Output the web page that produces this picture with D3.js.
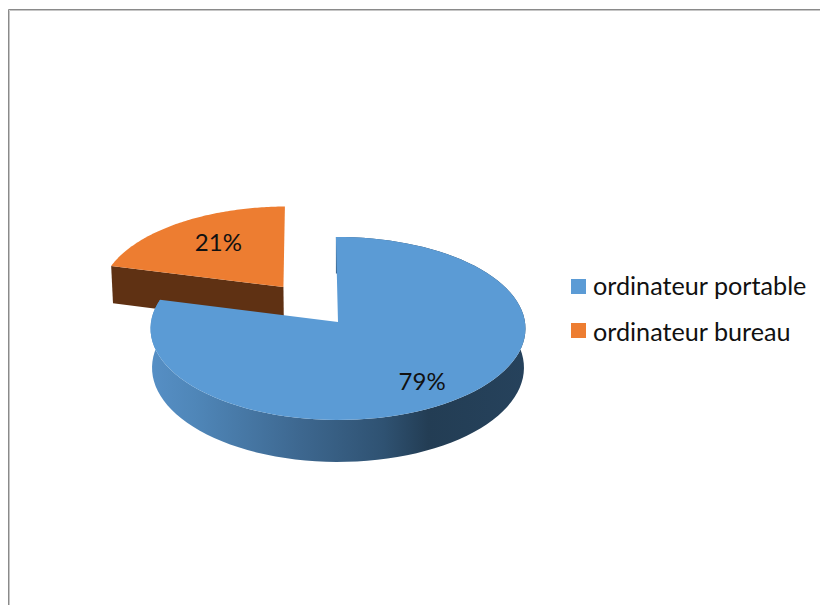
<!DOCTYPE html>
<html><head><meta charset="utf-8">
<script src="https://cdn.jsdelivr.net/npm/d3@7"></script>
<style>html,body{margin:0;padding:0;background:#fff}svg{display:block}text{font-family:Lato,"Open Sans",sans-serif;fill:#111}</style>
</head><body><svg id="c" width="820" height="605"></svg>
<script>
const categories = ["ordinateur portable", "ordinateur bureau"];
const values = [79.2, 20.8];
const percentLabels = ["79%", "21%"];
const topColors = ["#5b9bd5", "#ed7d31"];

const svg = d3.select("#c");
const defs = svg.append("defs");
const cx = 338, cy = 322, R = 187, K = 91, P = 0.071, D = 39, Q = 0.008;
const offsets = [[0, 0], [-0.30, 0.395]];      // slice explosion in the pie plane
const labelRadius = [0.70, 0.615];
const labelShift = [7, -4];

// circle-plane -> screen perspective projection
function project(u, v, z) {
  const den = 1 + P * v;
  return [cx + R * u * (1 - Q * z) / den, cy - K * v / den + D * z / den];
}
const line = d3.line();
const pie = d3.pie().sort(null).startAngle(-0.012).endAngle(2 * Math.PI - 0.012);
const arcs = pie(values);

// frame
[["#8a8a8a", 8.5, 9.5], ["#c6c6c6", 9.5, 10.5]].forEach(([c, x, y]) => {
  svg.append("path").attr("d", `M${x},605V${y}H820`).attr("fill", "none").attr("stroke", c);
});

// side gradient
const grad = defs.append("linearGradient").attr("id", "side").attr("gradientUnits", "userSpaceOnUse")
  .attr("x1", 151).attr("x2", 526).attr("y1", 0).attr("y2", 0);
[[0, "#568fc5"], [0.12, "#4f86b8"], [0.4, "#3d678f"], [0.62, "#2f5272"], [0.74, "#233d54"], [1, "#26425c"]]
  .forEach(([o, c]) => grad.append("stop").attr("offset", o).attr("stop-color", c));

function edge(d, i, z) {
  const [ou, ov] = offsets[i];
  const angle = d3.scaleLinear().domain([0, 96]).range([d.startAngle, d.endAngle]);
  return {
    apex: project(ou, ov, z),
    rim: d3.range(97).map(k => project(ou + Math.sin(angle(k)), ov + Math.cos(angle(k)), z))
  };
}

// orange slice (behind)
{
  const t = edge(arcs[1], 1, 0), b = edge(arcs[1], 1, 1);
  svg.append("path").attr("d", line([t.apex, t.rim[0], b.rim[0], b.apex]) + "Z").attr("fill", "#5f3113");
  svg.append("path").attr("d", line([t.apex, ...t.rim]) + "Z").attr("fill", topColors[1]);
}
// blue slice
{
  const t = edge(arcs[0], 0, 0), b = edge(arcs[0], 0, 1);
  svg.append("path").attr("d", line([...t.rim, ...b.rim.slice().reverse()]) + "Z").attr("fill", "url(#side)");
  svg.append("path").attr("d", line([t.apex, ...t.rim]) + "Z").attr("fill", topColors[0]);
}

// data labels
arcs.forEach((d, i) => {
  const mid = (d.startAngle + d.endAngle) / 2, s = labelRadius[i];
  const [x, y] = project(offsets[i][0] + s * Math.sin(mid), offsets[i][1] + s * Math.cos(mid), 0);
  svg.append("text").attr("x", x).attr("y", y + labelShift[i]).attr("dy", "0.35em")
    .attr("text-anchor", "middle").attr("font-size", 24).text(percentLabels[i]);
});

// legend
const legendY = d3.scalePoint().domain(categories).range([286.5, 332]);
categories.forEach((c, i) => {
  svg.append("rect").attr("x", 571).attr("y", [279, 323][i]).attr("width", 15).attr("height", 15).attr("fill", topColors[i]);
  svg.append("text").attr("x", 593).attr("y", legendY(c)).attr("dy", "0.35em").attr("font-size", 25.2).text(c);
});
</script></body></html>
